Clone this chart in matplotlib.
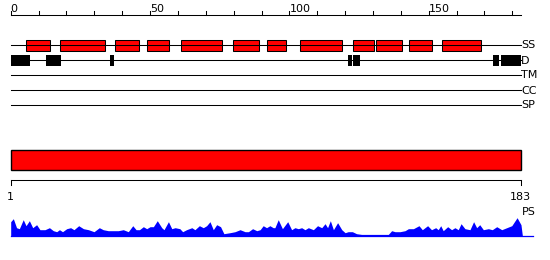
import numpy as np
import matplotlib.pyplot as plt
from matplotlib.patches import Rectangle

seq_len = 183

# track names (top to bottom)
tracks = ['SS', 'D', 'TM', 'CC', 'SP']

# secondary structure segments (residue start / end)
ss_start = [5.6, 17.8, 37.6, 48.8, 61.0, 79.7, 91.9, 103.8, 122.9, 131.2, 143.0, 154.9]
ss_end = [14.0, 33.8, 46.0, 56.7, 75.9, 89.2, 98.8, 118.9, 130.2, 140.3, 151.1, 168.9]

# disorder segments
dis_start = [0.0, 12.7, 35.7, 121.0, 122.9, 173.1, 176.1]
dis_end = [6.8, 18.0, 37.2, 122.4, 125.2, 175.2, 183.2]

# domain bar covering whole sequence
dom_start = [0]
dom_end = [183]

# PS profile (residue, score)
ps_pos = [0.0, 0.95, 2.1, 3.1, 4.5, 5.5, 6.7, 7.9, 9.3, 10.5, 12.3, 13.9, 15.3, 16.5,
          17.5, 18.6, 20.1, 21.5, 22.7, 24.4, 26.1, 27.9, 29.9, 31.8, 33.2, 35.0, 36.8,
          38.6, 40.4, 42.2, 43.8, 45.0, 46.2, 47.6, 48.8, 50.0, 51.2, 52.6, 54.2, 55.0,
          56.6, 57.8, 59.0, 60.7, 61.7, 63.1, 65.0, 66.1, 67.7, 69.1, 70.3, 71.5, 72.7,
          73.9, 75.3, 76.5, 78.7, 80.5, 82.3, 84.1, 85.3, 86.8, 88.3, 89.5, 90.6, 91.8,
          93.0, 94.2, 94.8, 96.0, 97.5, 99.4, 100.8, 102.0, 103.2, 104.4, 105.6, 106.8,
          108.6, 110.1, 111.6, 112.8, 113.7, 114.7, 115.8, 117.3, 118.8, 120.0, 121.1,
          122.6, 124.1, 125.9, 135.5, 136.7, 137.9, 139.7, 141.5, 142.7, 144.5, 146.5,
          147.7, 149.6, 151.0, 152.5, 153.4, 154.3, 155.2, 156.8, 158.2, 159.4, 160.6,
          161.6, 163.0, 164.8, 166.1, 167.2, 168.3, 169.6, 171.4, 172.8, 174.4, 176.2,
          178.0, 179.8, 181.7, 183.1, 183.6]
ps_val = [14, 17, 8, 7, 16, 10, 15, 8, 11, 6, 6, 8, 5, 4,
          6, 4, 7, 8, 6, 10, 7, 6, 4, 8, 6, 5, 5,
          5, 6, 4, 10, 6, 6, 9, 7, 9, 9, 15, 8, 6,
          14, 7, 8, 7, 4, 6, 8, 6, 10, 8, 10, 14, 6,
          11, 9, 2, 3, 4, 6, 4, 4, 7, 5, 6, 10, 8,
          10, 8, 8, 16, 7, 14, 6, 8, 7, 8, 6, 8,
          6, 10, 8, 12, 8, 15, 6, 13, 6, 3, 4,
          4, 2, 1.3, 1.3, 5, 4, 4, 5, 7, 7, 10,
          6, 10, 6, 8, 6, 10, 5, 9, 6, 8, 6,
          12, 7, 6, 14, 8, 11, 6, 7, 6, 9, 6,
          8, 10, 18, 11, 0]

# pixel scale: 0 -> x=10.7px, 183 -> x=520.7px
px_per_res = 510.0 / seq_len
x_lo = -10.7 / px_per_res
x_hi = (550 - 10.7) / px_per_res

fig = plt.figure(figsize=(5.5, 2.6), dpi=100)
ax = fig.add_axes([0, 0, 1, 1])
ax.set_xlim(x_lo, x_hi)
ax.set_ylim(260, 0)
ax.axis('off')

lw = 0.75
fs = 8

# top ruler
ax.plot([0, seq_len], [15, 15], color='black', lw=lw)
for t in range(0, seq_len, 10):
    ax.plot([t, t], [15, 11], color='black', lw=lw)
for t in range(0, seq_len, 50):
    ax.text(t, 12.5, str(t), ha='left', va='baseline', fontsize=fs)

# track lines + labels
track_y = [45, 60, 75, 90, 105]
for name, y in zip(tracks, track_y):
    ax.plot([0, seq_len], [y, y], color='black', lw=lw)
    ax.text(seq_len + 0.2, y + 0.5, name, ha='left', va='center', fontsize=fs)

# SS boxes
for s, e in zip(ss_start, ss_end):
    ax.add_patch(Rectangle((s, 40.2), e - s, 10.5, facecolor='red',
                           edgecolor='black', lw=lw))

# disorder boxes
for s, e in zip(dis_start, dis_end):
    ax.add_patch(Rectangle((s, 55.0), e - s, 10.8, facecolor='black', lw=0))

# domain bar
for s, e in zip(dom_start, dom_end):
    ax.add_patch(Rectangle((s, 150.3), e - s, 20, facecolor='red',
                           edgecolor='black', lw=1.0))

# bottom ruler
ax.plot([0, seq_len], [180.3, 180.3], color='black', lw=lw)
ax.plot([0, 0], [180.3, 184.5], color='black', lw=lw)
ax.plot([seq_len, seq_len], [180.3, 184.5], color='black', lw=lw)
ax.text(0, 200.5, '1', ha='center', va='baseline', fontsize=fs)
ax.text(seq_len, 200.5, str(seq_len), ha='center', va='baseline', fontsize=fs)
ax.text(seq_len + 0.4, 215, 'PS', ha='left', va='baseline', fontsize=fs)

# PS profile
ps_base = 235.7
pos = np.array(ps_pos)
val = np.array(ps_val)
ax.fill_between(pos, ps_base, ps_base - val, color='blue', lw=0)
ax.plot([0, seq_len + 4.5], [ps_base, ps_base], color='blue', lw=0.9)

fig.savefig('out.png', dpi=100)
